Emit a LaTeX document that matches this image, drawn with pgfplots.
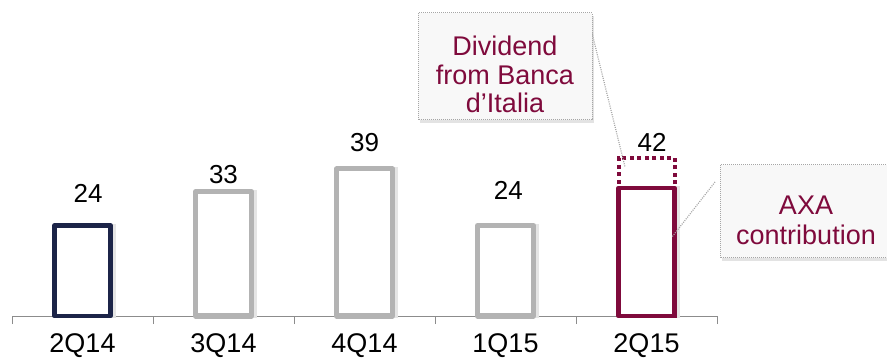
\documentclass[border=0pt]{standalone}
\usepackage{pgfplots}
\pgfplotsset{compat=1.18}
\usepackage{fontspec}
\setmainfont{Liberation Sans}
\usetikzlibrary{shadows}
\definecolor{navy}{HTML}{1C2448}
\definecolor{maroon}{HTML}{7F0A3C}
\definecolor{barg}{HTML}{B3B3B3}
\definecolor{callg}{HTML}{A6A6A6}
\definecolor{callfill}{HTML}{F8F8F8}
\definecolor{axg}{HTML}{8C8C8C}
\begin{document}
\begin{tikzpicture}
\useasboundingbox (0,0) rectangle (887bp,360bp);
\begin{axis}[
  at={(12bp,44bp)}, anchor=south west,
  scale only axis, width=705bp, height=316bp,
  xmin=-0.5, xmax=4.5, ymin=0, ymax=83.82,
  axis x line=bottom, axis y line=none,
  x axis line style={-, draw=axg, line width=1bp},
  xtick={-0.5,0.5,1.5,2.5,3.5,4.5}, xticklabels={},
  major tick length=8bp, tick align=outside,
  tick style={draw=axg, line width=1bp},
  extra x ticks={0,1,2,3,4},
  extra x tick labels={2Q14,3Q14,4Q14,1Q15,2Q15},
  extra x tick style={major tick length=0pt,
    tick label style={font=\fontsize{27bp}{29bp}\selectfont, inner sep=0pt, anchor=center, yshift=-30bp}},
  ytick=\empty,
  clip=false,
  ybar, bar width=56bp,
]
% shadows
\addplot[draw=black!10, line width=4bp, fill=none, bar shift=3bp] coordinates {(0,24)(1,33)(2,39)(3,24)(4,34)};
% bars
\addplot[draw=navy, line width=4.5bp, line join=round, fill=white, bar shift=0pt] coordinates {(0,24)};
\addplot[draw=barg, line width=5bp, line join=round, fill=white, bar shift=0pt] coordinates {(1,33)(2,39)(3,24)};
\addplot[draw=maroon, line width=4bp, dash pattern=on 4bp off 3.5bp, fill=none, bar shift=0pt] coordinates {(4,42)};
\addplot[draw=maroon, line width=4.5bp, line join=round, fill=white, bar shift=0pt] coordinates {(4,34)};
% value labels
\node[font=\fontsize{26bp}{28bp}\selectfont] at (axis cs:0.04,32.4) {24};
\node[font=\fontsize{26bp}{28bp}\selectfont] at (axis cs:1.00,37.5) {33};
\node[font=\fontsize{26bp}{28bp}\selectfont] at (axis cs:2.00,46.0) {39};
\node[font=\fontsize{26bp}{28bp}\selectfont] at (axis cs:3.02,33.2) {24};
\node[font=\fontsize{26bp}{28bp}\selectfont] at (axis cs:4.04,46.0) {42};
\end{axis}
% callout 1
\draw[callg, line width=1.2bp, dash pattern=on 1bp off 1.2bp] (592bp,327bp) -- (625bp,193bp);
\draw[callg, line width=1bp, dash pattern=on 1bp off 1bp, fill=callfill,
  drop shadow={shadow xshift=2bp, shadow yshift=-3bp, fill=black!22}]
  (418bp,240bp) rectangle (592bp,347bp);
\node[font=\fontsize{27bp}{28.5bp}\selectfont, text=maroon, align=center] at (505bp,285.5bp) {Dividend\\from Banca\\d’Italia};
% callout 2
\draw[callg, line width=1.2bp, dash pattern=on 1bp off 1.2bp] (715bp,178bp) -- (672bp,123bp);
\draw[callg, line width=1bp, dash pattern=on 1bp off 1bp, fill=callfill,
  drop shadow={shadow xshift=2bp, shadow yshift=-3bp, fill=black!22}]
  (720bp,102bp) rectangle (889bp,195bp);
\node[font=\fontsize{27bp}{30bp}\selectfont, text=maroon, align=center] at (806bp,140bp) {AXA\\contribution};
\end{tikzpicture}
\end{document}
